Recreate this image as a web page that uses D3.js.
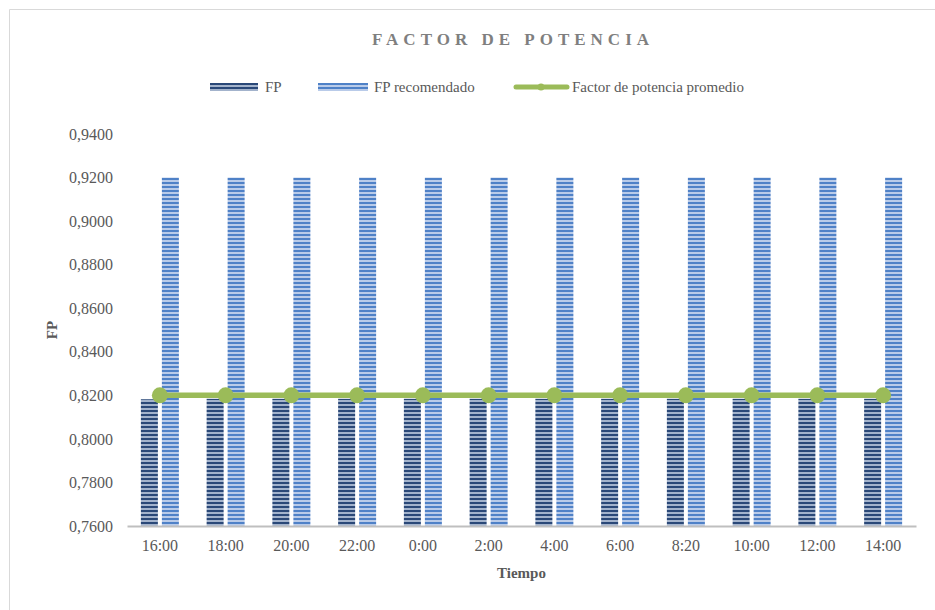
<!DOCTYPE html>
<html>
<head>
<meta charset="utf-8">
<script src="https://cdn.jsdelivr.net/npm/d3@7"></script>
<style>
  body { margin: 0; background: #fff; }
  text { font-family: "Liberation Serif", "Times New Roman", serif; }
</style>
</head>
<body>
<div id="chart"></div>
<script>
// DATA
const categories = ["16:00", "18:00", "20:00", "22:00", "0:00", "2:00", "4:00", "6:00", "8:20", "10:00", "12:00", "14:00"];
const fpValues = [0.8182, 0.8184, 0.8184, 0.8184, 0.8184, 0.8184, 0.8184, 0.8184, 0.8184, 0.8184, 0.8184, 0.8184];
const fpRecomendado = [0.92, 0.92, 0.92, 0.92, 0.92, 0.92, 0.92, 0.92, 0.92, 0.92, 0.92, 0.92];
const fpPromedio = [0.82, 0.82, 0.82, 0.82, 0.82, 0.82, 0.82, 0.82, 0.82, 0.82, 0.82, 0.82];
const yTicks = [0.76, 0.78, 0.80, 0.82, 0.84, 0.86, 0.88, 0.90, 0.92, 0.94];

const width = 935, height = 610;
const margin = { top: 134, right: 19, bottom: 84, left: 127 };
const innerWidth = width - margin.left - margin.right;
const innerHeight = height - margin.top - margin.bottom;

const svg = d3.select("#chart").append("svg")
  .attr("width", width)
  .attr("height", height);

// stripe patterns
const defs = svg.append("defs");
function stripes(id, dark, light) {
  const p = defs.append("pattern")
    .attr("id", id)
    .attr("patternUnits", "userSpaceOnUse")
    .attr("width", 4).attr("height", 4);
  p.append("rect").attr("width", 4).attr("height", 4).attr("fill", light);
  p.append("rect").attr("width", 4).attr("height", 2).attr("fill", dark);
}
stripes("pat-fp", "#2a4878", "#a3b3cc");
stripes("pat-rec", "#4f81c7", "#b9cbe9");

// chart border (only top and left edges are visible in the frame)
svg.append("path")
  .attr("d", "M9.5,610 V9.5 H935")
  .attr("fill", "none")
  .attr("stroke", "#d9d9d9");

// title
svg.append("text")
  .attr("x", 513).attr("y", 45)
  .attr("text-anchor", "middle")
  .attr("font-size", 17)
  .attr("font-weight", "bold")
  .attr("letter-spacing", "5px")
  .attr("fill", "#7f7f7f")
  .text("FACTOR DE POTENCIA");

const g = svg.append("g")
  .attr("transform", `translate(${margin.left}, ${margin.top})`);

const xScale = d3.scaleBand()
  .domain(categories)
  .range([0, innerWidth]);

const yScale = d3.scaleLinear()
  .domain([0.76, 0.94])
  .range([innerHeight, 0]);

const barW = 17, gap = 4;

// y axis
const yAxis = d3.axisLeft(yScale)
  .tickValues(yTicks)
  .tickSize(0)
  .tickPadding(14)
  .tickFormat(d => d3.format(".4f")(d).replace(".", ","));
const yAxisG = g.append("g").attr("class", "y-axis").call(yAxis);
yAxisG.select(".domain").remove();
yAxisG.selectAll("text")
  .attr("font-size", 16)
  .attr("fill", "#595959")
  .style("font-family", "Liberation Serif, serif");

// bars
g.selectAll(".bar-fp").data(fpValues).enter().append("rect")
  .attr("class", "bar-fp")
  .attr("x", (d, i) => xScale(categories[i]) + xScale.bandwidth() / 2 - gap / 2 - barW)
  .attr("y", d => yScale(d))
  .attr("width", barW)
  .attr("height", d => innerHeight - yScale(d))
  .attr("fill", "url(#pat-fp)");

g.selectAll(".bar-rec").data(fpRecomendado).enter().append("rect")
  .attr("class", "bar-rec")
  .attr("x", (d, i) => xScale(categories[i]) + xScale.bandwidth() / 2 + gap / 2)
  .attr("y", d => yScale(d))
  .attr("width", barW)
  .attr("height", d => innerHeight - yScale(d))
  .attr("fill", "url(#pat-rec)");

// x axis
const xAxis = d3.axisBottom(xScale).tickSize(0).tickPadding(14);
const xAxisG = g.append("g")
  .attr("class", "x-axis")
  .attr("transform", `translate(0, ${innerHeight})`)
  .call(xAxis);
xAxisG.select(".domain").attr("stroke", "#bfbfbf").attr("stroke-width", 2);
xAxisG.selectAll("text")
  .attr("font-size", 16)
  .attr("fill", "#595959")
  .style("font-family", "Liberation Serif, serif");

// average line
const lineGenerator = d3.line()
  .x((d, i) => xScale(categories[i]) + xScale.bandwidth() / 2)
  .y(d => yScale(d));
g.append("path")
  .attr("fill", "none")
  .attr("stroke", "#9bbb59")
  .attr("stroke-width", 5.5)
  .attr("d", lineGenerator(fpPromedio));
g.selectAll(".pt").data(fpPromedio).enter().append("circle")
  .attr("class", "pt")
  .attr("cx", (d, i) => xScale(categories[i]) + xScale.bandwidth() / 2)
  .attr("cy", d => yScale(d))
  .attr("r", 8)
  .attr("fill", "#9bbb59");

// axis titles
svg.append("text")
  .attr("x", margin.left + innerWidth / 2)
  .attr("y", 578)
  .attr("text-anchor", "middle")
  .attr("font-size", 15)
  .attr("font-weight", "bold")
  .attr("fill", "#595959")
  .text("Tiempo");

svg.append("text")
  .attr("transform", `translate(57, ${margin.top + innerHeight / 2}) rotate(-90)`)
  .attr("text-anchor", "middle")
  .attr("font-size", 15)
  .attr("font-weight", "bold")
  .attr("fill", "#595959")
  .text("FP");

// legend
const legend = svg.append("g").attr("transform", "translate(0, 87)");
legend.append("rect").attr("x", 210).attr("y", -4).attr("width", 48).attr("height", 8).attr("fill", "url(#pat-fp)");
legend.append("text").attr("x", 265).attr("y", 5).attr("font-size", 15).attr("fill", "#595959").text("FP");
legend.append("rect").attr("x", 318).attr("y", -4).attr("width", 50).attr("height", 8).attr("fill", "url(#pat-rec)");
legend.append("text").attr("x", 374).attr("y", 5).attr("font-size", 15).attr("fill", "#595959").text("FP recomendado");
legend.append("line").attr("x1", 516).attr("x2", 567).attr("y1", 0).attr("y2", 0)
  .attr("stroke", "#9bbb59").attr("stroke-width", 5).attr("stroke-linecap", "round");
legend.append("circle").attr("cx", 541).attr("cy", 0).attr("r", 3.5).attr("fill", "#9bbb59");
legend.append("text").attr("x", 572).attr("y", 5).attr("font-size", 15).attr("fill", "#595959").text("Factor de potencia promedio");
</script>
</body>
</html>
